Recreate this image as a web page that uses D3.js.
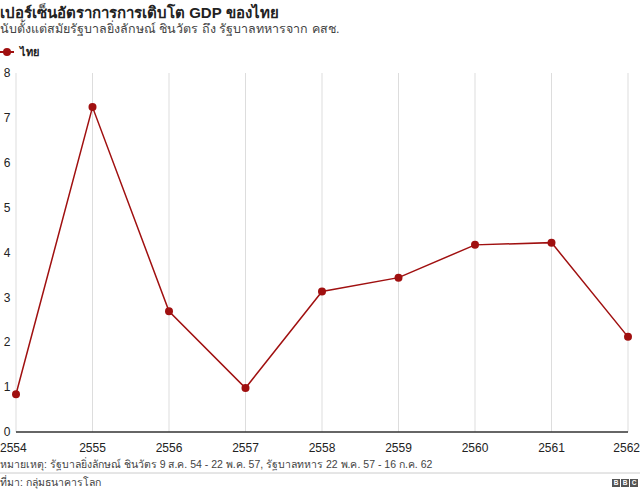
<!DOCTYPE html>
<html>
<head>
<meta charset="utf-8">
<script src="https://cdn.jsdelivr.net/npm/d3@7"></script>
<style>
  body { margin: 0; background: #fff; }
  svg { font-family: Arial, "Liberation Sans", "Noto Sans", sans-serif; }
</style>
</head>
<body>
<svg id="chart" width="640" height="497"></svg>
<script>
// ข้อมูลอัตราการเติบโต GDP ของไทย (ร้อยละ)
const years = ["2554", "2555", "2556", "2557", "2558", "2559", "2560", "2561", "2562"]
const growth = [0.84, 7.24, 2.69, 0.98, 3.13, 3.44, 4.17, 4.22, 2.12]
const yTicks = [0, 1, 2, 3, 4, 5, 6, 7, 8]

const svg = d3.select("#chart")
const plotLeft = 16, plotRight = 628, plotTop = 73, plotBottom = 432
const red = "#a01010"

const x = d3.scalePoint().domain(years).range([plotLeft, plotRight])
const y = d3.scaleLinear().domain([0, 8]).range([plotBottom, plotTop])

// title
svg.append("text").attr("x", 0).attr("y", 18)
  .attr("font-size", 15).attr("font-weight", "bold").attr("fill", "#222")
  .text("เปอร์เซ็นอัตราการการเติบโต GDP ของไทย")
svg.append("text").attr("x", 0).attr("y", 33)
  .attr("font-size", 12.5).attr("fill", "#444")
  .text("นับตั้งแต่สมัยรัฐบาลยิ่งลักษณ์ ชินวัตร ถึง รัฐบาลทหารจาก คสช.")

// legend
const lg = svg.append("g").attr("transform", "translate(0,52)")
lg.append("line").attr("x1", 0).attr("x2", 14).attr("stroke", red).attr("stroke-width", 2)
lg.append("circle").attr("cx", 7).attr("r", 4).attr("fill", red)
lg.append("text").attr("x", 20).attr("dy", "0.35em")
  .attr("font-size", 11).attr("font-weight", "bold").attr("fill", "#222").text("ไทย")

// vertical grid
svg.append("g").selectAll("line").data(years).join("line")
  .attr("x1", d => x(d)).attr("x2", d => x(d))
  .attr("y1", plotTop).attr("y2", plotBottom)
  .attr("stroke", "#dddddd").attr("stroke-width", 1)

// y labels
svg.append("g").selectAll("text").data(yTicks).join("text")
  .attr("x", 7).attr("y", d => y(d)).attr("dy", "0.35em")
  .attr("text-anchor", "middle").attr("font-size", 12).attr("fill", "#222")
  .text(d => d)

// x axis
svg.append("line").attr("x1", plotLeft).attr("x2", plotRight)
  .attr("y1", plotBottom).attr("y2", plotBottom)
  .attr("stroke", "#333").attr("stroke-width", 1.5)
svg.append("g").selectAll("text").data(years).join("text")
  .attr("x", (d, i) => i === 0 ? 0 : (i === years.length - 1 ? 640 : x(d)))
  .attr("y", 448).attr("dy", "0.35em")
  .attr("text-anchor", (d, i) => i === 0 ? "start" : (i === years.length - 1 ? "end" : "middle"))
  .attr("font-size", 12).attr("fill", "#222")
  .text(d => d)

// line + points
const pts = years.map((d, i) => ({ year: d, value: growth[i] }))
svg.append("path").datum(pts)
  .attr("fill", "none").attr("stroke", red).attr("stroke-width", 1.5)
  .attr("d", d3.line().x(d => x(d.year)).y(d => y(d.value)))
svg.append("g").selectAll("circle").data(pts).join("circle")
  .attr("cx", d => x(d.year)).attr("cy", d => y(d.value))
  .attr("r", 4).attr("fill", red)

// footer
svg.append("text").attr("x", 0).attr("y", 468)
  .attr("font-size", 10.5).attr("fill", "#444")
  .text("หมายเหตุ: รัฐบาลยิ่งลักษณ์ ชินวัตร 9 ส.ค. 54 - 22 พ.ค. 57, รัฐบาลทหาร 22 พ.ค. 57 - 16 ก.ค. 62")
svg.append("line").attr("x1", 0).attr("x2", 640).attr("y1", 473).attr("y2", 473)
  .attr("stroke", "#cccccc").attr("stroke-width", 1)
svg.append("text").attr("x", 0).attr("y", 486)
  .attr("font-size", 10.5).attr("fill", "#444")
  .text("ที่มา: กลุ่มธนาคารโลก")

// BBC blocks
const bbc = svg.append("g").attr("transform", "translate(612,479)")
;["B", "B", "C"].forEach((c, i) => {
  bbc.append("rect").attr("x", i * 9).attr("width", 8).attr("height", 8).attr("fill", "#555")
  bbc.append("text").attr("x", i * 9 + 4).attr("y", 4).attr("dy", "0.35em")
    .attr("text-anchor", "middle").attr("font-size", 6.5).attr("font-weight", "bold")
    .attr("fill", "#fff").text(c)
})
</script>
</body>
</html>
